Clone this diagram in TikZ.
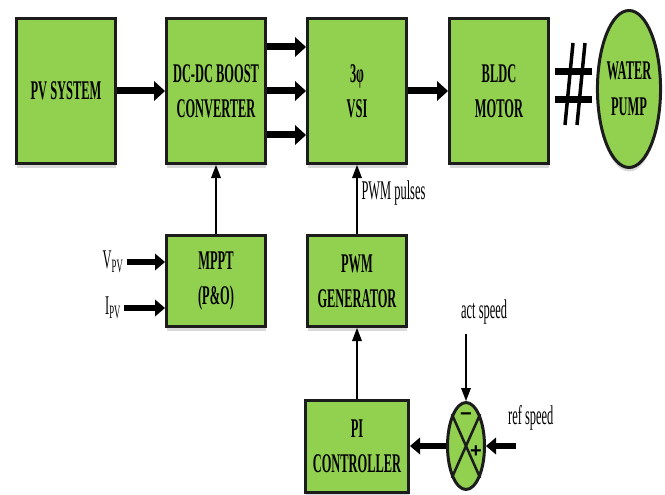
\documentclass[tikz,border=0pt]{standalone}
\usepackage{fontspec}
\setmainfont{Liberation Serif}[FakeStretch=0.46]
\newfontfamily\signfont{Liberation Sans}
\usepackage{tikz}
\usetikzlibrary{shapes,arrows.meta,positioning,calc,shadows}
\definecolor{boxgreen}{RGB}{146,208,80}
\definecolor{boxedge}{RGB}{28,28,28}

\begin{document}
\begin{tikzpicture}[node distance=150pt]
  \useasboundingbox (0,0) rectangle (665pt,-495pt);
  % Styles
  \tikzstyle{block} = [rectangle, draw=boxedge, fill=boxgreen, line width=3pt, align=center, minimum width=99pt, inner sep=2pt, font=\bfseries\fontsize{27}{35}\selectfont, drop shadow={shadow xshift=0pt, shadow yshift=-4pt, opacity=0.3}]
  \tikzstyle{load} = [ellipse, draw=boxedge, fill=boxgreen, line width=3pt, align=center, minimum width=62pt, minimum height=157pt, inner sep=0pt, font=\bfseries\fontsize{27}{36}\selectfont, drop shadow={shadow xshift=0pt, shadow yshift=-4pt, opacity=0.3}]
  \tikzstyle{junction} = [ellipse, draw=boxedge, fill=boxgreen, line width=3pt, minimum width=37pt, minimum height=87pt, inner sep=0pt]
  \tikzstyle{signame} = [font=\fontsize{27}{30}\selectfont]
  \tikzstyle{sign} = [inner sep=0pt, font=\signfont\bfseries\fontsize{20}{20}\selectfont]
  \tikzstyle{bigarrow} = [-{Triangle[length=11pt, width=20pt, line width=0pt]}, line width=7pt]
  \tikzstyle{midarrow} = [-{Triangle[length=10pt, width=17pt, line width=0pt]}, line width=6pt]
  \tikzstyle{thinarrow} = [-{Triangle[length=13pt, width=10pt, line width=0pt]}, line width=2.5pt]

  % Nodes
  \node [block, minimum height=145pt] (pv) at (66pt,-91pt) {PV SYSTEM};
  \node [block, minimum height=145pt, right of=pv] (dcdc) {DC-DC BOOST\\CONVERTER};
  \node [block, minimum height=145pt, right of=dcdc, node distance=141pt] (vsi) {3φ\\VSI};
  \node [block, minimum height=145pt, right of=vsi, node distance=142pt] (bldc) {BLDC\\MOTOR};
  \node [load, right of=bldc, node distance=130pt, yshift=2pt] (pump) {WATER\\PUMP};
  \node [block, minimum height=91pt, below of=dcdc, node distance=190pt] (mppt) {MPPT\\(P\&O)};
  \node [block, minimum height=91pt, below of=vsi, node distance=190pt] (pwm) {PWM\\GENERATOR};
  \node [block, minimum height=92pt, minimum width=103pt, below of=pwm, node distance=165pt] (pi) {PI\\CONTROLLER};
  \node [junction, right of=pi, node distance=109pt] (sum) {};

  % Inputs
  \node [signame] (vpv) at (113pt,-262pt) {V\textsubscript{PV}};
  \node [signame] (ipv) at (113pt,-308pt) {I\textsubscript{PV}};
  \coordinate [above of=sum, node distance=112pt] (actin);
  \node [signame, inner sep=0pt, above right=10pt and -5pt of actin] (actlbl) {act speed};
  \coordinate [right of=sum, node distance=50pt] (refin);
  \node [signame, inner sep=0pt, above right=16pt and -8pt of refin] (reflbl) {ref speed};

  % Summing junction
  \draw [line width=2.5pt, draw=boxedge] (sum.north west) -- (sum.south east);
  \draw [line width=2.5pt, draw=boxedge] (sum.north east) -- (sum.south west);
  \node [sign] (minus) at ($(sum.center)+(0pt,29pt)$) {−};
  \node [sign] (plus) at ($(sum.center)+(10pt,-6pt)$) {+};

  % Shaft mark between motor and pump
  \coordinate (hash) at ($(bldc.east)+(24pt,5pt)$);
  \draw [line width=7pt] ($(hash)+(-19pt,14pt)$) -- ++(37pt,0pt);
  \draw [line width=7pt] ($(hash)+(-19pt,-14pt)$) -- ++(37pt,0pt);
  \draw [line width=3.5pt] ($(hash)+(-1pt,43pt)$) -- ++(-8pt,-82pt);
  \draw [line width=3.5pt] ($(hash)+(11pt,43pt)$) -- ++(-8pt,-82pt);

  % Paths / Edges
  \draw [bigarrow] (pv) -- (dcdc);
  \draw [bigarrow] ([yshift=44pt]dcdc.east) -- ([yshift=44pt]vsi.west);
  \draw [bigarrow] (dcdc) -- (vsi);
  \draw [bigarrow] ([yshift=-44pt]dcdc.east) -- ([yshift=-44pt]vsi.west);
  \draw [bigarrow] (vsi) -- (bldc);
  \draw [thinarrow] (mppt) -- (dcdc);
  \draw [thinarrow] (pwm) -- node[signame, right, pos=0.59] {PWM pulses} (vsi);
  \draw [thinarrow] (pi) -- (pwm);
  \draw [midarrow] (vpv.east) -- (vpv.east -| mppt.west);
  \draw [midarrow] (ipv.east) -- (ipv.east -| mppt.west);
  \draw [midarrow] (sum) -- (pi);
  \draw [thinarrow] (actin) -- (sum);
  \draw [midarrow] (refin) -- (sum);

\end{tikzpicture}
\end{document}
